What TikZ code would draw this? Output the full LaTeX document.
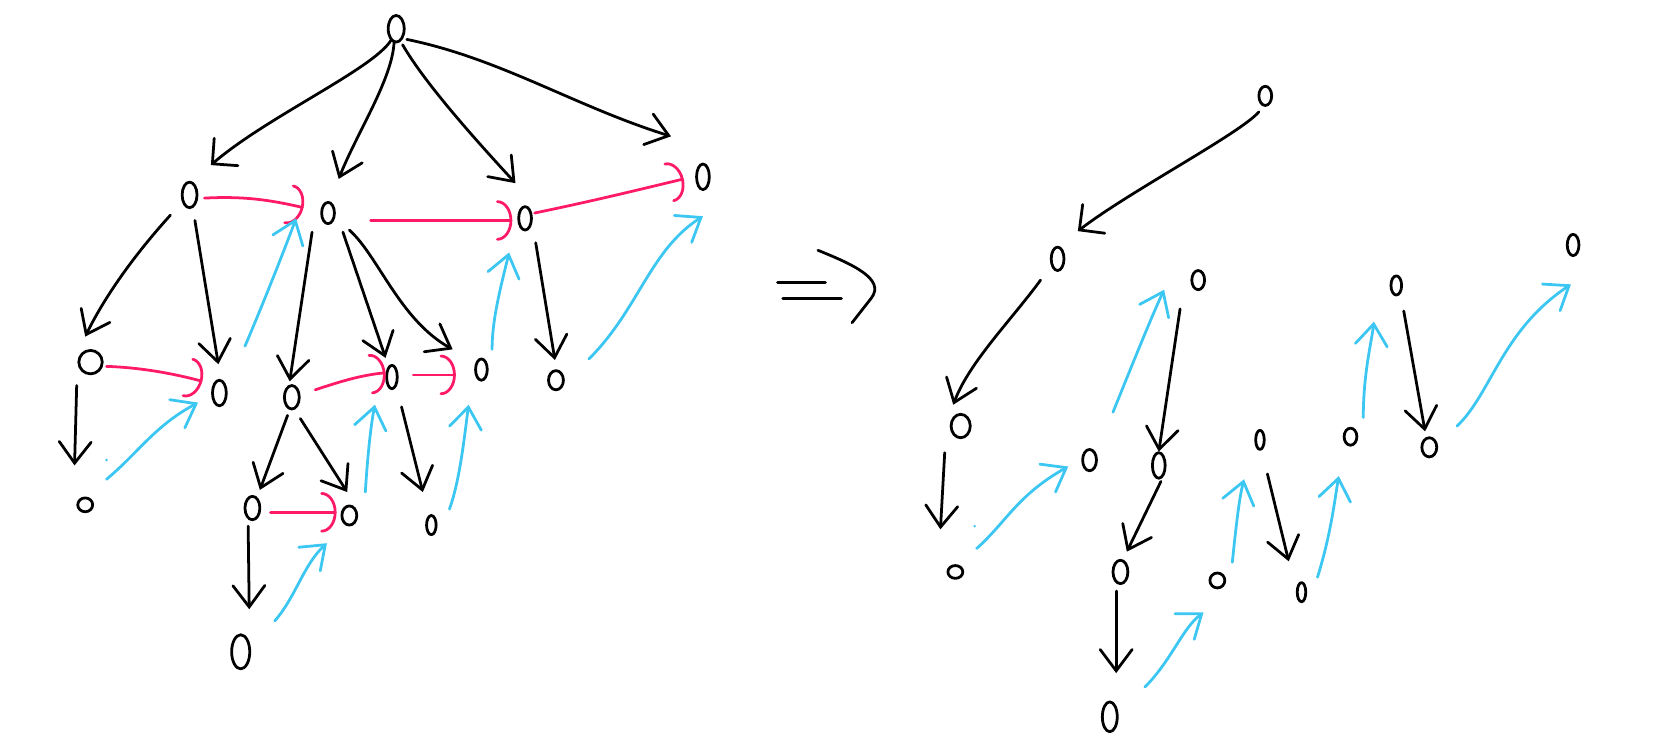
\documentclass[tikz,border=0pt]{standalone}
\usetikzlibrary{shapes.geometric,arrows.meta,calc}
\definecolor{tred}{HTML}{FF1A66}
\definecolor{tblue}{HTML}{3CC6F2}
\begin{document}
\begin{tikzpicture}[x=1pt,y=-1pt,line cap=round,line join=round,
  nd/.style 2 args={draw, ellipse, line width=2.6pt, minimum width=#1pt, minimum height=#2pt, inner sep=0pt},
  blk/.style={line width=2.6pt, -{Straight Barb[length=20pt,width=30pt,line cap=round]}},
  lblk/.style={line width=2.6pt, -{Straight Barb[length=17pt,width=34pt,line cap=round]}},
  redarr/.style={tred, line width=2.6pt, -{Arc Barb[length=14pt,width=38pt,line cap=round]}},
  bluarr/.style={tblue, line width=2.6pt, -{Straight Barb[length=20pt,width=30pt,line cap=round]}},
  sym/.style={line width=2.6pt}]
\useasboundingbox (0,0) rectangle (1568,705);
% ---------- left tree nodes ----------
\node[nd={15}{25}] (R) at (372,27) {};
\node[nd={14}{24}] (A) at (178,183) {};
\node[nd={12}{20}] (B) at (308,200) {};
\node[nd={12}{22}] (C) at (493,205) {};
\node[nd={12}{24}] (D) at (660,166) {};
\node[nd={22}{22}] (A1) at (85,340) {};
\node[nd={13}{24}] (A2) at (206,369) {};
\node[nd={14}{22}] (B1) at (274,373) {};
\node[nd={10}{22}] (B2) at (368,354) {};
\node[nd={11}{20}] (B3) at (452,347) {};
\node[nd={14}{18}] (C1) at (522,357) {};
\node[nd={14}{13}] (A11) at (80,474) {};
\node[nd={14}{22}] (B11) at (237,477) {};
\node[nd={14}{18}] (B12) at (328,484) {};
\node[nd={9}{18}] (B21) at (405,493) {};
\node[nd={17}{32}] (B111) at (226,612) {};
% ---------- left black edges ----------
\draw[lblk] ($(R)+(-5,11)$) .. controls (350,65) and (250,110) .. ($(A)+(20,-28)$);
\draw[blk] ($(R)+(-2,13)$) .. controls (368,75) and (335,125) .. ($(B)+(10,-32)$);
\draw[blk] ($(R)+(6,15)$) .. controls (400,80) and (450,135) .. ($(C)+(-9,-33)$);
\draw[blk] ($(R)+(10,10)$) .. controls (470,55) and (540,100) .. ($(D)+(-30,-38)$);
\draw[blk] ($(A)+(-18,19)$) .. controls (130,235) and (100,275) .. ($(A1)+(-5,-24)$);
\draw[blk] ($(A)+(5,24)$) -- ($(A2)+(-1,-27)$);
\draw[blk] ($(B)+(-15,18)$) -- ($(B1)+(-2,-15)$);
\draw[blk] ($(B)+(14,18)$) -- ($(B2)+(-6,-18)$);
\draw[blk] ($(B)+(20,16)$) .. controls (355,240) and (375,300) .. ($(B3)+(-27,-19)$);
\draw[blk] ($(C)+(10,23)$) -- ($(C1)+(-1,-19)$);
\draw[blk] ($(A1)+(-13,22)$) -- ($(A11)+(-10,-37)$);
\draw[blk] ($(B1)+(-4,17)$) -- ($(B11)+(7,-17)$);
\draw[blk] ($(B1)+(8,20)$) -- ($(B12)+(-2,-22)$);
\draw[blk] ($(B2)+(9,28)$) -- ($(B21)+(-8,-31)$);
\draw[blk] ($(B11)+(-4,17)$) -- ($(B111)+(8,-40)$);
% ---------- left red sibling arrows ----------
\draw[redarr] ($(A)+(14,3)$) .. controls (230,184) and (255,188) .. ($(B)+(-23,-5)$);
\draw[redarr] ($(B)+(40,7)$) -- ($(C)+(-12,2)$);
\draw[redarr] ($(C)+(9,-5)$) .. controls (560,188) and (600,178) .. ($(D)+(-18,2)$);
\draw[redarr] ($(A1)+(15,4)$) .. controls (130,345) and (160,350) .. ($(A2)+(-16,-11)$);
\draw[redarr] ($(B1)+(22,-7)$) .. controls (320,358) and (340,352) .. ($(B2)+(-6,-4)$);
\draw[redarr] ($(B2)+(20,-2)$) -- ($(B3)+(-24,5)$);
\draw[redarr] ($(B11)+(17,4)$) -- ($(B12)+(-12,-3)$);
% ---------- left blue thread arrows ----------
\draw[bluarr] ($(A2)+(24,-44)$) .. controls (245,290) and (265,240) .. ($(B)+(-30,5)$);
\draw[bluarr] ($(B3)+(10,-19)$) .. controls (462,300) and (470,270) .. ($(C)+(-15,32)$);
\draw[bluarr] ($(C1)+(31,-20)$) .. controls (600,290) and (610,235) .. ($(D)+(0,37)$);
\draw[bluarr] ($(A11)+(20,-24)$) .. controls (130,425) and (145,400) .. ($(A2)+(-20,9)$);
\draw[bluarr] ($(B12)+(15,-22)$) .. controls (345,430) and (348,400) .. ($(B2)+(-16,26)$);
\draw[bluarr] ($(B21)+(17,-15)$) .. controls (432,450) and (436,410) .. ($(B3)+(-12,33)$);
\draw[bluarr] ($(B111)+(32,-29)$) .. controls (278,560) and (285,530) .. ($(B12)+(-21,26)$);
\fill[tblue] (100,432) circle (1.3pt);
% ---------- implies symbol ----------
\draw[sym] (730,265) -- (775,265);
\draw[sym] (735,280) -- (790,280);
\draw[sym] (768,235) .. controls (800,248) and (832,262) .. (818,280) -- (800,303);
% ---------- right tree nodes ----------
\node[nd={12}{18}] (Rr) at (1188,90) {};
\node[nd={12}{22}] (Ar) at (993,243) {};
\node[nd={12}{18}] (Br) at (1125,263) {};
\node[nd={10}{18}] (Cr) at (1311,268) {};
\node[nd={11}{20}] (Dr) at (1477,230) {};
\node[nd={18}{22}] (A1r) at (902,400) {};
\node[nd={13}{20}] (A2r) at (1023,432) {};
\node[nd={12}{24}] (B1r) at (1088,437) {};
\node[nd={8}{18}] (B2r) at (1183,413) {};
\node[nd={12}{16}] (B3r) at (1268,410) {};
\node[nd={14}{18}] (C1r) at (1342,420) {};
\node[nd={14}{12}] (A11r) at (897,537) {};
\node[nd={14}{22}] (B11r) at (1052,537) {};
\node[nd={14}{14}] (B12r) at (1143,545) {};
\node[nd={8}{18}] (B21r) at (1222,556) {};
\node[nd={14}{28}] (B111r) at (1042,673) {};
% ---------- right black edges ----------
\draw[lblk] ($(Rr)+(-6,15)$) .. controls (1165,125) and (1060,180) .. ($(Ar)+(19,-26)$);
\draw[blk] ($(Ar)+(-16,20)$) .. controls (950,300) and (910,340) .. ($(A1r)+(-7,-20)$);
\draw[blk] ($(A1r)+(-15,25)$) -- ($(A11r)+(-14,-40)$);
\draw[blk] ($(Br)+(-17,27)$) -- ($(B1r)+(0,-13)$);
\draw[blk] ($(B1r)+(2,15)$) -- ($(B11r)+(6,-19)$);
\draw[blk] ($(B11r)+(-4,18)$) -- ($(B111r)+(6,-41)$);
\draw[blk] ($(B2r)+(7,32)$) -- ($(B21r)+(-12,-29)$);
\draw[blk] ($(Cr)+(7,24)$) -- ($(C1r)+(-4,-15)$);
% ---------- right blue thread arrows ----------
\draw[bluarr] ($(B1r)+(-43,-50)$) .. controls (1060,350) and (1080,300) .. ($(Br)+(-32,9)$);
\draw[bluarr] ($(A11r)+(20,-22)$) .. controls (945,490) and (955,465) .. ($(A2r)+(-20,6)$);
\draw[bluarr] ($(B111r)+(33,-28)$) .. controls (1100,620) and (1110,590) .. ($(B12r)+(-13,30)$);
\draw[bluarr] ($(B12r)+(14,-17)$) .. controls (1160,500) and (1163,470) .. ($(B2r)+(-15,37)$);
\draw[bluarr] ($(B21r)+(15,-14)$) .. controls (1250,500) and (1253,470) .. ($(B3r)+(-11,37)$);
\draw[bluarr] ($(B3r)+(12,-18)$) .. controls (1280,350) and (1288,320) .. ($(Cr)+(-21,34)$);
\draw[bluarr] ($(C1r)+(26,-20)$) .. controls (1400,370) and (1410,310) .. ($(Dr)+(-2,37)$);
\fill[tblue] (915,494) circle (1.3pt);
\end{tikzpicture}
\end{document}
